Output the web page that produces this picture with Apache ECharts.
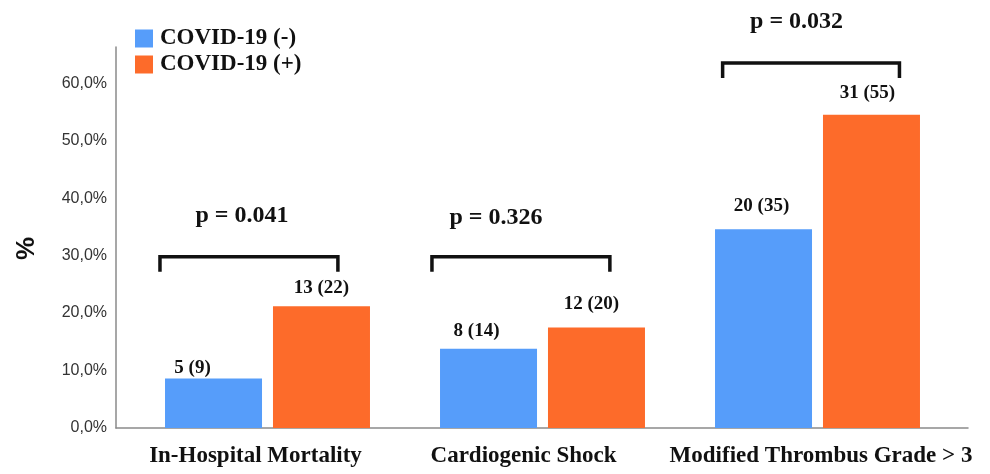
<!DOCTYPE html>
<html>
<head>
<meta charset="utf-8">
<script src="https://cdn.jsdelivr.net/npm/echarts@6/dist/echarts.min.js"></script>
<style>html,body{margin:0;padding:0;background:#fff}#c{width:990px;height:474px}</style>
</head>
<body>
<div id="c"></div>
<script>
// ---- data ----
const categories = ['In-Hospital Mortality', 'Cardiogenic Shock', 'Modified Thrombus Grade > 3'];
const seriesNames = ['COVID-19 (-)', 'COVID-19 (+)'];
const covidNeg = [8.6, 13.8, 34.6];
const covidPos = [21.2, 17.5, 54.5];
const negLabels = ['5 (9)', '8 (14)', '20 (35)'];
const posLabels = ['13 (22)', '12 (20)', '31 (55)'];
const pValues = ['p = 0.041', 'p = 0.326', 'p = 0.032'];
const yTicks = [0, 10, 20, 30, 40, 50, 60];

// ---- layout (style only) ----
const Y_MAX = 66.3;
const TOP = 47, BOTTOM = 46;
const serif = '"Liberation Serif", "Times New Roman", serif';
const sans = '"Liberation Sans", Arial, sans-serif';
const catLabelPadding = [[0, 24, 0, 0], [0, 38, 0, 0], [0, 0, 0, 7]];
const negLabelLayout = [{distance: 1, offset: [-21, 0]}, {distance: 8, offset: [-12, 0]}, {distance: 14, offset: [-2, 0]}];
const posLabelLayout = [{distance: 9, offset: [0, 0]}, {distance: 14, offset: [-5, 0]}, {distance: 12, offset: [-4, 0]}];
const bracketLayout = [
  {level: 29.8, text: 37.0, left: -0.391, right: 0.256, textDx: -0.093},
  {level: 29.8, text: 36.5, left: -0.402, right: 0.245, textDx: -0.169},
  {level: 63.5, text: 70.6, left: -0.345, right: 0.298, textDx: -0.076}
];

const chart = echarts.init(document.getElementById('c'), null, {renderer: 'canvas'});

const barLabelStyle = {show: true, position: 'top', color: '#111', fontFamily: serif, fontWeight: 'bold', fontSize: 19};

chart.setOption({
  animation: false,
  backgroundColor: '#fff',
  legend: {
    orient: 'vertical', left: 130, top: 22, itemWidth: 18, itemHeight: 18, itemGap: 3,
    icon: 'rect',
    textStyle: {fontFamily: serif, fontWeight: 'bold', fontSize: 23, color: '#111', padding: [0, 0, 0, 2]},
    data: seriesNames
  },
  grid: [
    {left: 130, right: 35, top: TOP, bottom: BOTTOM},
    {left: 116, right: 22, top: TOP, bottom: BOTTOM}
  ],
  xAxis: [
    {
      type: 'category', gridIndex: 0,
      data: categories.map((c, i) => ({value: c, textStyle: {padding: catLabelPadding[i]}})),
      axisLine: {show: false}, axisTick: {show: false},
      axisLabel: {margin: 17, color: '#111', fontFamily: serif, fontWeight: 'bold', fontSize: 23, interval: 0}
    },
    {
      type: 'value', gridIndex: 1, min: 0, max: 1,
      axisLine: {show: true, lineStyle: {color: '#8a8a8a', width: 1.5}},
      axisTick: {show: false}, axisLabel: {show: false}, splitLine: {show: false}
    }
  ],
  yAxis: [
    {type: 'value', gridIndex: 0, min: 0, max: Y_MAX, show: false, splitLine: {show: false}},
    {
      type: 'value', gridIndex: 1, min: 0, max: Y_MAX, interval: 10,
      axisLine: {show: true, lineStyle: {color: '#8a8a8a', width: 1.5}},
      axisTick: {show: false}, splitLine: {show: false},
      axisLabel: {
        margin: 9, color: '#333', fontFamily: sans, fontSize: 16,
        showMaxLabel: false,
        formatter: v => yTicks.indexOf(v) >= 0 ? v.toFixed(1).replace('.', ',') + '%' : ''
      },
      name: '%', nameLocation: 'middle', nameGap: 76, nameRotate: 90,
      nameTextStyle: {fontFamily: sans, fontWeight: 'bold', fontSize: 26, color: '#111', padding: [0, 22, 0, 0]}
    }
  ],
  series: [
    {
      name: seriesNames[0], type: 'bar', xAxisIndex: 0, yAxisIndex: 0,
      barWidth: 97, barGap: '11.3%',
      itemStyle: {color: '#569DFA'},
      data: covidNeg.map((v, i) => ({value: v, label: Object.assign({}, barLabelStyle, negLabelLayout[i], {formatter: negLabels[i]})}))
    },
    {
      name: seriesNames[1], type: 'bar', xAxisIndex: 0, yAxisIndex: 0,
      barWidth: 97, barGap: '11.3%',
      itemStyle: {color: '#FD6B2A'},
      data: covidPos.map((v, i) => ({value: v, label: Object.assign({}, barLabelStyle, posLabelLayout[i], {formatter: posLabels[i]})}))
    },
    {
      type: 'custom', xAxisIndex: 0, yAxisIndex: 0, clip: false, silent: true,
      data: pValues.map((p, i) => [i, bracketLayout[i].level]),
      encode: {x: 0, y: 1},
      renderItem: (params, api) => {
        const i = params.dataIndex;
        const L = bracketLayout[i];
        const c = api.coord([i, L.level]);
        const band = api.size([1, 0])[0];
        const x1 = c[0] + L.left * band, x2 = c[0] + L.right * band, y = c[1];
        const t = api.coord([i, L.text]);
        return {
          type: 'group',
          children: [
            {type: 'polyline', shape: {points: [[x1, y + 15], [x1, y], [x2, y], [x2, y + 15]]},
             style: {stroke: '#111', lineWidth: 3.5, fill: null}},
            {type: 'text', x: c[0] + L.textDx * band, y: t[1],
             style: {text: pValues[i], fill: '#111', font: 'bold 24px ' + serif, align: 'center', verticalAlign: 'middle'}}
          ]
        };
      }
    }
  ]
});
</script>
</body>
</html>
